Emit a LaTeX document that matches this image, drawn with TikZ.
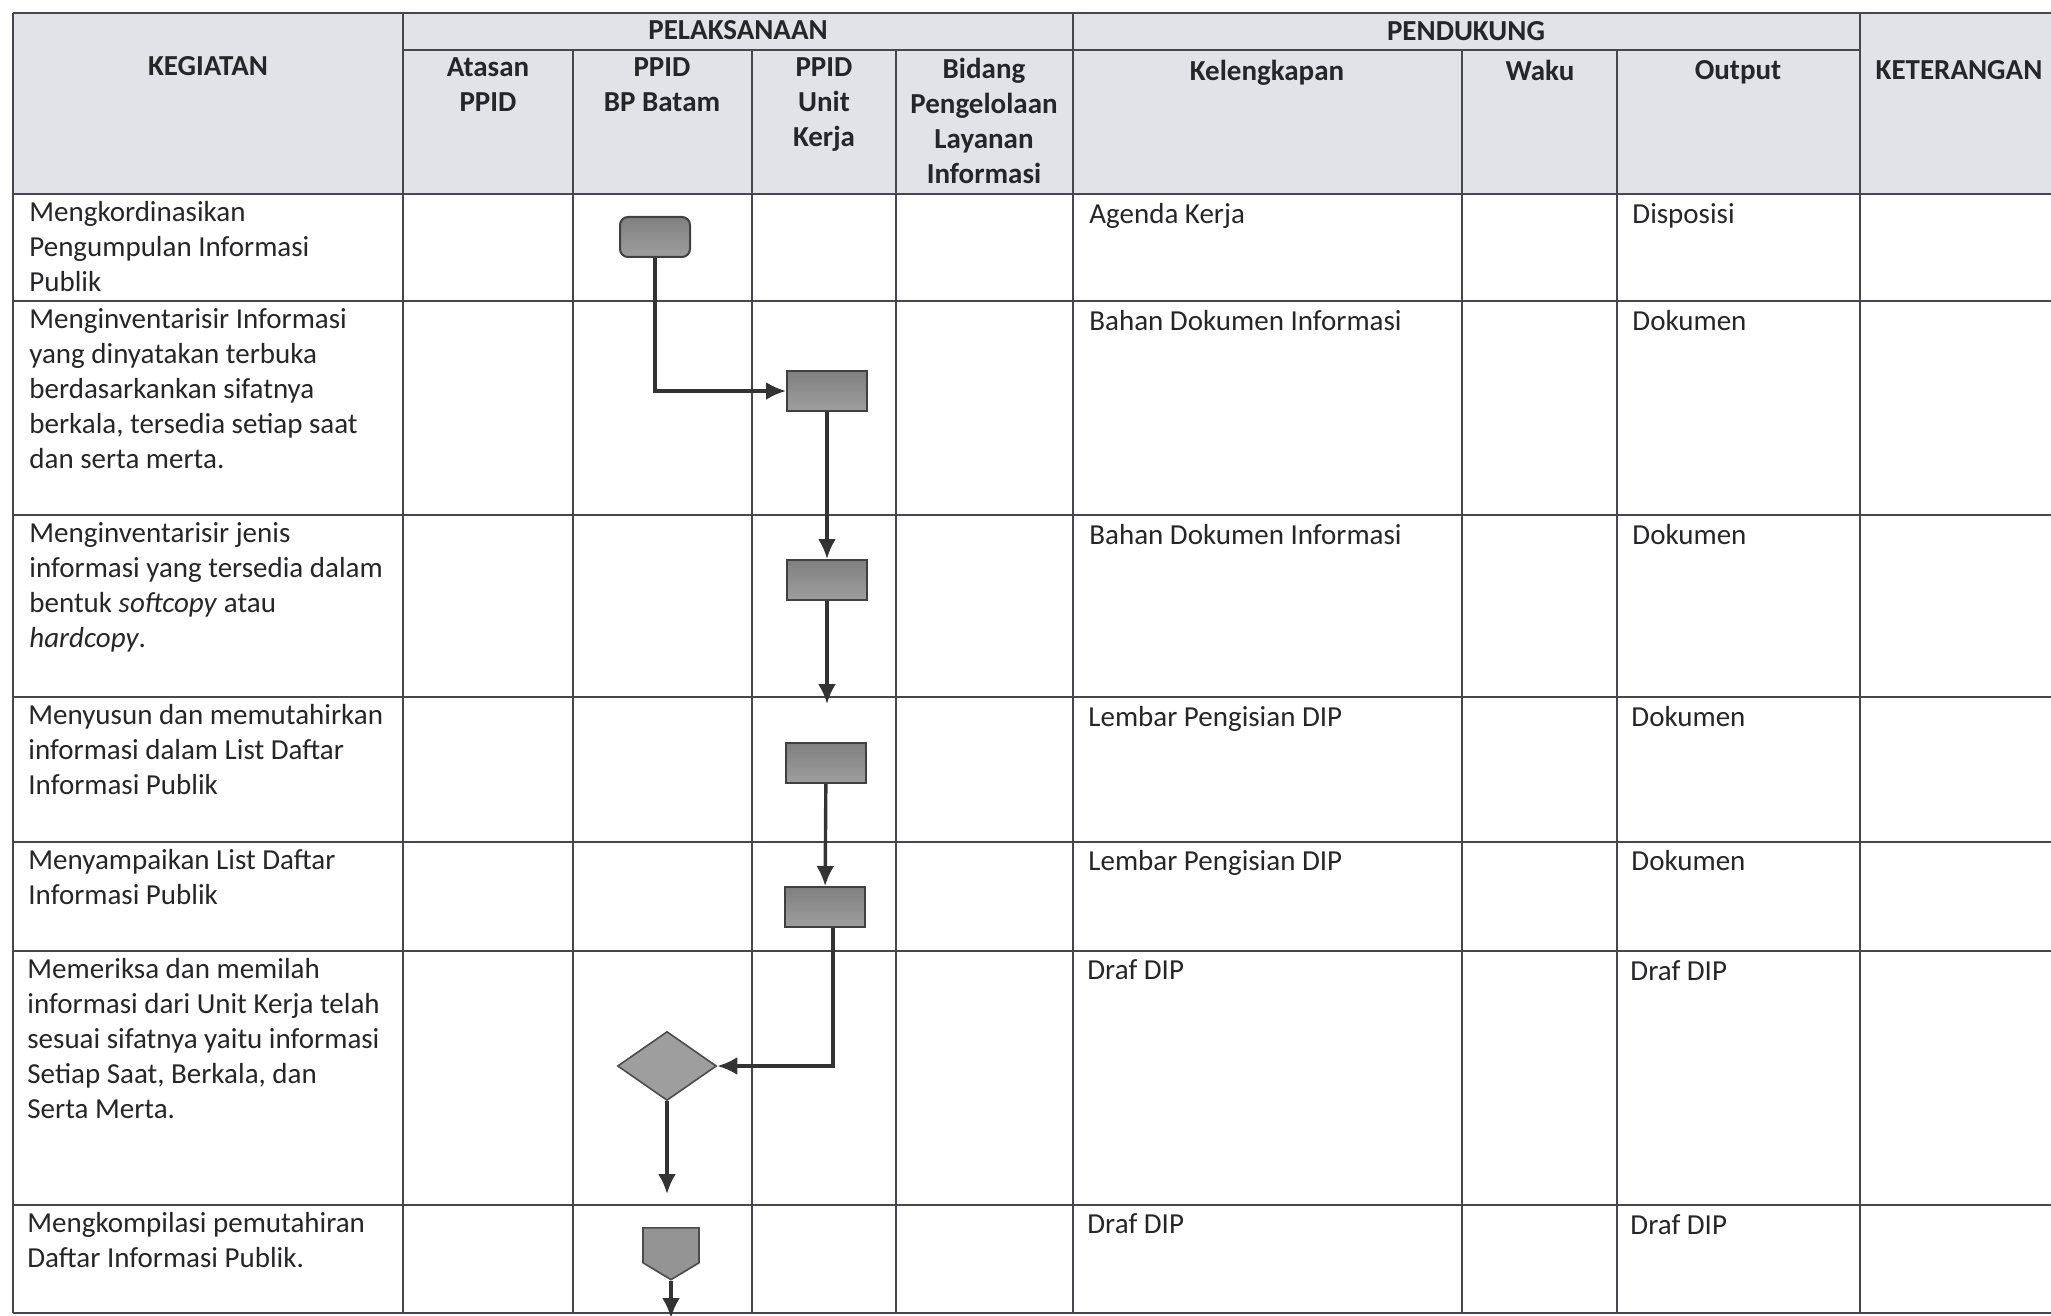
\documentclass[tikz,border=0pt]{standalone}
\usepackage{fontspec}
\setmainfont{Carlito}
\usetikzlibrary{positioning,shapes.geometric,shapes.symbols,calc,arrows.meta}

\definecolor{hdrgray}{RGB}{226,227,233}
\definecolor{inkgray}{RGB}{38,38,40}
\definecolor{rulegray}{RGB}{70,70,76}

\tikzset{
  grid/.style={draw=rulegray,line width=0.9pt},
  txt/.style={anchor=north west,inner sep=0pt,align=left,text=inkgray,font=\fontsize{14.5}{17.5}\selectfont},
  hdr/.style={anchor=north,inner sep=0pt,align=center,text=inkgray,font=\fontsize{14.5}{17.5}\selectfont\bfseries},
  proc/.style={draw=black!75,line width=1pt,top color=black!50,bottom color=black!38,minimum width=40pt,minimum height=20pt,inner sep=0pt},
  start/.style={proc,rounded corners=4pt,minimum width=35pt},
  dec/.style={diamond,draw=black!70,line width=0.8pt,fill=black!38,minimum width=49.5pt,minimum height=34.5pt,inner sep=0pt},
  offp/.style={signal,signal to=south,signal from=nowhere,signal pointer angle=118,draw=black!70,line width=0.8pt,fill=black!42,minimum width=28pt,minimum height=17.5pt,inner sep=0pt},
  arr/.style={-{Latex[length=10pt,width=9pt]},line width=1.7pt,draw=black!80}
}

\begin{document}
\begin{tikzpicture}[x=0.5pt,y=-0.5pt]
\useasboundingbox (0,0) rectangle (2051,1316);
\fill[white] (0,0) rectangle (2051,1316);
\fill[hdrgray] (13,13) rectangle (2058,194);

% table rules
\foreach \y in {13,194,301,515,697,842,951,1205,1313}{
	\draw[grid](13,\y)--(2058,\y);
}
\draw[grid](403,50)--(1860,50);
\foreach \x in {13,403,1073,1860}{
	\draw[grid](\x,13)--(\x,1313);
}
\foreach \x in {573,752,896,1462,1617}{
	\draw[grid](\x,50)--(\x,1313);
}

% header
\node[hdr](kg) at (208,56) {KEGIATAN};
\node[hdr](pl) at (738,20) {PELAKSANAAN};
\node[hdr](pd) at (1466,21) {PENDUKUNG};
\node[hdr](h1) at (488,57) {Atasan\\PPID};
\node[hdr](h2) at (662,57) {PPID\\BP Batam};
\node[hdr](h3) at (824,57) {PPID\\Unit\\Kerja};
\node[hdr](h4) at (984,58) {Bidang\\Pengelolaan\\Layanan\\Informasi};
\node[hdr](h5) at (1267,60) {Kelengkapan};
\node[hdr](h6) at (1540,60) {Waku};
\node[hdr](h7) at (1738,60) {Output};
\node[hdr](h8) at (1959,60) {KETERANGAN};

% kegiatan
\node[txt](a1) at (29,201) {Mengkordinasikan\\Pengumpulan Informasi\\Publik};
\node[txt](a2) at (29,308) {Menginventarisir Informasi\\yang dinyatakan terbuka\\berdasarkankan sifatnya\\berkala, tersedia setiap saat\\dan serta merta.};
\node[txt](a3) at (29,522) {Menginventarisir jenis\\informasi yang tersedia dalam\\bentuk \textit{softcopy} atau\\\textit{hardcopy}.};
\node[txt](a4) at (28,704) {Menyusun dan memutahirkan\\informasi dalam List Daftar\\Informasi Publik};
\node[txt](a5) at (28,849) {Menyampaikan List Daftar\\Informasi Publik};
\node[txt](a6) at (27,958) {Memeriksa dan memilah\\informasi dari Unit Kerja telah\\sesuai sifatnya yaitu informasi\\Setiap Saat, Berkala, dan\\Serta Merta.};
\node[txt](a7) at (27,1212) {Mengkompilasi pemutahiran\\Daftar Informasi Publik.};

% kelengkapan & output
\node[txt](k1) at (1089,203) {Agenda Kerja};
\node[txt](k2) at (1089,310) {Bahan Dokumen Informasi};
\node[txt](k3) at (1089,524) {Bahan Dokumen Informasi};
\node[txt](k4) at (1088,706) {Lembar Pengisian DIP};
\node[txt](k5) at (1088,850) {Lembar Pengisian DIP};
\node[txt](k6) at (1087,959) {Draf DIP};
\node[txt](k7) at (1087,1213) {Draf DIP};
\node[txt](o1) at (1632,203) {Disposisi};
\node[txt](o2) at (1632,310) {Dokumen};
\node[txt](o3) at (1632,524) {Dokumen};
\node[txt](o4) at (1631,706) {Dokumen};
\node[txt](o5) at (1631,850) {Dokumen};
\node[txt](o6) at (1630,960) {Draf DIP};
\node[txt](o7) at (1630,1214) {Draf DIP};

% flow
\node[start](s) at (655,237) {};
\node[proc](b2) at (827,391) {};
\node[proc](b3) at (827,580) {};
\node[proc](b4) at (826,763) {};
\node[proc](b5) at (825,907) {};
\node[dec](d) at (667,1066) {};
\node[offp,anchor=north](f) at (671,1227) {};
\coordinate(c3) at (827,704);
\coordinate(c6) at (667,1194);
\coordinate(c7) at (671,1318);

\draw[arr](s)|-(b2);
\foreach \x/\y in {b2/b3,b3/c3,b4/b5,d/c6}{
	\draw[arr](\x)--(\y);
}
\draw[arr](f.south)--(c7);
\draw[arr]([xshift=4pt]b5.south)|-(d);

\end{tikzpicture}
\end{document}
